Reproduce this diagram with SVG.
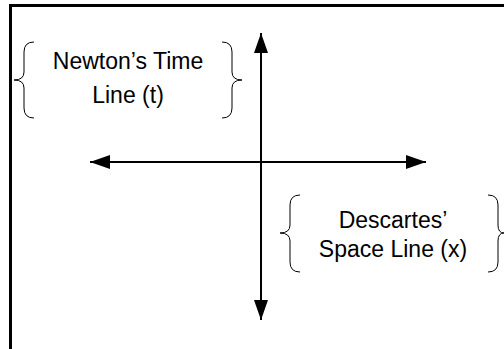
<svg xmlns="http://www.w3.org/2000/svg" width="504" height="349" viewBox="0 0 504 349">
<style>
.frame{fill:none;stroke:#000;stroke-width:3}
.axis{fill:none;stroke:#000;stroke-width:2}
.brace{fill:none;stroke:#000;stroke-width:1}
.lbl{font-family:"Liberation Sans",Arial,sans-serif;font-size:23px;fill:#000;text-anchor:middle}
</style>
<defs>
<marker id="ah" viewBox="0 0 20 14" refX="20" refY="7" markerWidth="20" markerHeight="14" markerUnits="userSpaceOnUse" orient="auto-start-reverse">
<path d="M0,0 L20,7 L0,14 Z" fill="#000"/>
</marker>
</defs>
<rect width="504" height="349" fill="#fff"/>
<path class="frame" d="M10.5,349 V5.5 H504"/>
<g id="connectors">
<line class="axis" x1="261" y1="320" x2="261" y2="33" marker-start="url(#ah)" marker-end="url(#ah)"/>
<line class="axis" x1="90" y1="162" x2="426" y2="162" marker-start="url(#ah)" marker-end="url(#ah)"/>
</g>
<g id="newton">
<path class="brace" d="M34,42 Q24,42 24,52 V72 Q24,80 14,80 Q24,80 24,88 V108 Q24,118 34,118"/>
<path class="brace" d="M222,42 Q232,42 232,52 V72 Q232,80 242,80 Q232,80 232,88 V108 Q232,118 222,118"/>
<text class="lbl" x="128" y="69">Newton’s Time</text>
<text class="lbl" x="128" y="103">Line (t)</text>
</g>
<g id="descartes">
<path class="brace" d="M300,195 Q290,195 290,205 V225 Q290,233 280,233 Q290,233 290,241 V262 Q290,272 300,272"/>
<path class="brace" d="M488,195 Q498,195 498,205 V225 Q498,233 504,233 Q498,233 498,241 V262 Q498,272 488,272"/>
<text class="lbl" x="393" y="228">Descartes’</text>
<text class="lbl" x="393" y="257">Space Line (x)</text>
</g>
</svg>
